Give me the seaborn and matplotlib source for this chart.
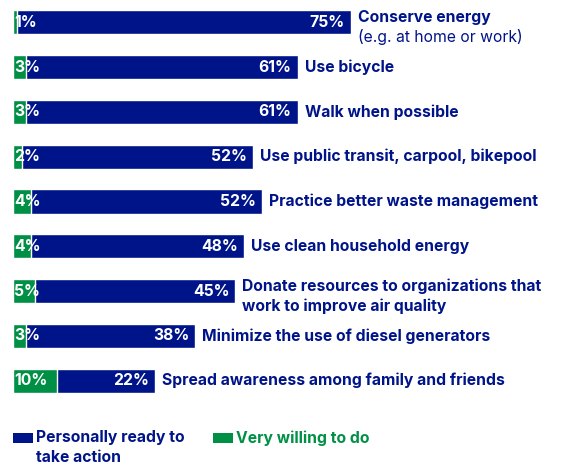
import matplotlib
matplotlib.use("Agg")
import matplotlib.pyplot as plt
import seaborn as sns
import pandas as pd
from matplotlib.patches import Rectangle

sns.set_theme(style="white")
plt.rcParams['font.family'] = ['Inter', 'DejaVu Sans']

categories = [
    "Conserve energy",
    "Use bicycle",
    "Walk when possible",
    "Use public transit, carpool, bikepool",
    "Practice better waste management",
    "Use clean household energy",
    "Donate resources to organizations that\nwork to improve air quality",
    "Minimize the use of diesel generators",
    "Spread awareness among family and friends",
]
very_willing = [1, 3, 3, 2, 4, 4, 5, 3, 10]
ready = [75, 61, 61, 52, 52, 48, 45, 38, 22]
legend_labels = ["Personally ready to\ntake action", "Very willing to do"]

NAVY = "#001489"
GREEN = "#009045"
FS = 11.3
W, H = 578, 465
PX = 4.45  # pixels per percentage point

df = pd.DataFrame({"label": categories, "green": very_willing, "navy": ready})
df["total"] = df["green"] + df["navy"]

fig = plt.figure(figsize=(W / 100, H / 100), dpi=100)
ax = fig.add_axes([13 / W, 1 - 403 / H, (W - 13) / W, 403 / H])

sns.barplot(data=df, y="label", x="total", orient="h", color=NAVY, width=0.54,
            saturation=1, ax=ax)
sns.barplot(data=df, y="label", x="green", orient="h", color=GREEN, width=0.54,
            saturation=1, ax=ax)

ax.set_xlim(0, (W - 13) / PX)
ax.set_ylim(len(categories) - 0.5, -0.5)
ax.set_axis_off()

gap = 7 / PX
for i, row in df.iterrows():
    lab = row["label"]
    tot = row["total"]
    ax.text(0.2, i, f"{row['green']}%", color="white", fontsize=FS, fontweight="bold",
            va="center", ha="left")
    ax.text(tot - 1.4, i, f"{row['navy']}%", color="white", fontsize=FS,
            fontweight="bold", va="center", ha="right")
    if i == 0:
        ax.text(tot + gap, i - 0.11, lab, color=NAVY, fontsize=FS,
                fontweight="bold", va="center", ha="left")
        ax.text(tot + gap, i + 0.33, "(e.g. at home or work)", color=NAVY,
                fontsize=FS, va="center", ha="left")
    elif "\n" in lab:
        ax.text(tot + gap, i + 0.11, lab, color=NAVY, fontsize=FS,
                fontweight="bold", va="center", ha="left", linespacing=1.35)
    else:
        ax.text(tot + gap, i, lab, color=NAVY, fontsize=FS,
                fontweight="bold", va="center", ha="left")

# legend
for x0, col, lab in [(13, NAVY, legend_labels[0]), (213, GREEN, legend_labels[1])]:
    fig.add_artist(Rectangle((x0 / W, 1 - 443 / H), 20 / W, 10 / H,
                             transform=fig.transFigure, facecolor=col, edgecolor="none"))
    fig.text((x0 + 23) / W, 1 - 430 / H, lab, color=col, fontsize=FS,
             fontweight="bold", ha="left", va="top", linespacing=1.4)

fig.savefig("out.png", dpi=100)
